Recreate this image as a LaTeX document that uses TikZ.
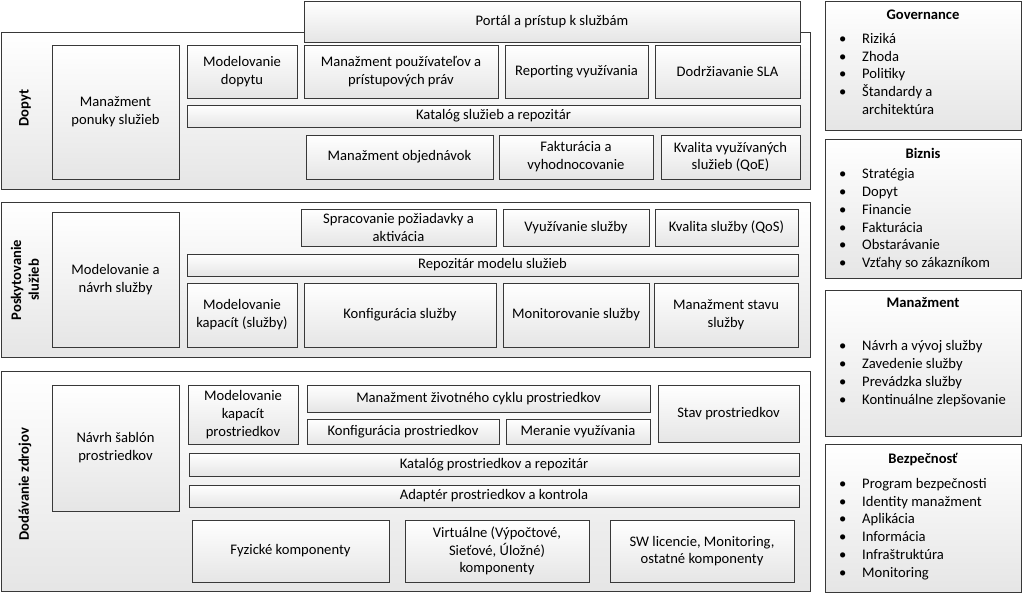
\documentclass[tikz,border=0pt]{standalone}
\usepackage{fontspec}
\setmainfont{Carlito}
\usetikzlibrary{shadows}
\newcommand\fs{\fontsize{14.6pt}{17.8pt}\selectfont}
\tikzset{
  bx/.style={draw=black!78, line width=0.9pt, top color=white, bottom color=black!10,
    align=center, inner sep=2pt, font=\fs,
    drop shadow={shadow xshift=1.2pt, shadow yshift=-1.2pt, opacity=0.18}},
  sidelabel/.style={rotate=90, font=\fs\bfseries, align=center, inner sep=0pt},
  ttl/.style={font=\fs\bfseries, inner sep=0pt, text height=10pt, text depth=3.5pt},
  lst/.style={font=\fs, anchor=west, inner sep=0pt, text height=10pt, text depth=3.5pt},
}
\newcommand\bx[6]{\node[bx, minimum width={#4-#2}, minimum height={#5-#3}] (#1) at ({(#2+#4)/2},{(#3+#5)/2}) {#6};}
\newcommand\itm[3]{\node[lst] (#1) at (839,#2+2) {\makebox[23pt][l]{•}#3};}
\begin{document}
\begin{tikzpicture}[x=1pt,y=-1pt]
\useasboundingbox (0,0) rectangle (1024,594);

% ---- containers ----
\bx{dopytC}{1}{32}{810}{189}{}
\bx{posC}{1}{202}{810}{357}{}
\bx{dodC}{1}{371}{810}{591}{}

\node[sidelabel] (dopytL) at (25,108) {Dopyt};
\node[sidelabel] (posL) at (25,280) {Poskytovanie\\služieb};
\node[sidelabel] (dodL) at (25,484) {Dodávanie zdrojov};

% ---- portal ----
\bx{portal}{304}{1}{800}{42}{Portál a prístup k službám}

% ---- Dopyt ----
\bx{mps}{52}{45}{179}{179}{Manažment\\ponuky služieb}
\bx{mdop}{187}{45}{297}{98}{Modelovanie\\dopytu}
\bx{mpp}{304}{45}{498}{98}{Manažment používateľov a\\prístupových práv}
\bx{repv}{505}{45}{648}{98}{Reporting využívania}
\bx{sla}{655}{45}{800}{98}{Dodržiavanie SLA}
\bx{kat}{187}{105}{800}{127}{Katalóg služieb a repozitár}
\bx{mobj}{306}{135}{493}{179}{Manažment objednávok}
\bx{fakt}{499}{135}{653}{179}{Fakturácia a\\vyhodnocovanie}
\bx{qoe}{661}{135}{800}{179}{Kvalita využívaných\\služieb (QoE)}

% ---- Poskytovanie ----
\bx{mns}{52}{212}{179}{347}{Modelovanie a\\návrh služby}
\bx{spr}{301}{209}{496}{246}{Spracovanie požiadavky a\\aktivácia}
\bx{vyuz}{503}{209}{649}{246}{Využívanie služby}
\bx{qos}{655}{209}{798}{246}{Kvalita služby (QoS)}
\bx{rep}{187}{254}{798}{276}{Repozitár modelu služieb}
\bx{mks}{187}{283}{297}{347}{Modelovanie\\kapacít (služby)}
\bx{konf}{304}{283}{496}{347}{Konfigurácia služby}
\bx{mon}{503}{283}{649}{347}{Monitorovanie služby}
\bx{mss}{654}{283}{798}{347}{Manažment stavu\\služby}

% ---- Dodávanie ----
\bx{nsp}{52}{385}{179}{511}{Návrh šablón\\prostriedkov}
\bx{mkp}{188}{385}{298}{444}{Modelovanie\\kapacít\\prostriedkov}
\bx{mzc}{307}{385}{650}{412}{Manažment životného cyklu prostriedkov}
\bx{kpr}{307}{419}{499}{444}{Konfigurácia prostriedkov}
\bx{mer}{506}{419}{650}{444}{Meranie využívania}
\bx{stav}{658}{385}{799}{442}{Stav prostriedkov}
\bx{katp}{189}{453}{799}{476}{Katalóg prostriedkov a repozitár}
\bx{adap}{189}{485}{799}{507}{Adaptér prostriedkov a kontrola}
\bx{fyz}{192}{520}{389}{582}{Fyzické komponenty}
\bx{virt}{405}{520}{589}{582}{Virtuálne (Výpočtové,\\Sieťové, Úložné)\\komponenty}
\bx{sw}{610}{520}{794}{582}{SW licencie, Monitoring,\\ostatné komponenty}

% ---- right column ----
\bx{gov}{825}{1}{1021}{130}{}
\bx{biz}{825}{139}{1021}{278}{}
\bx{man}{825}{290}{1021}{436}{}
\bx{bez}{825}{444}{1021}{592}{}

\node[ttl] (govT) at (923,16) {Governance};
\itm{g1}{38}{Riziká}
\itm{g2}{56}{Zhoda}
\itm{g3}{73}{Politiky}
\itm{g4}{91}{Štandardy a}
\node[lst] (g5) at (862,111) {architektúra};

\node[ttl] (bizT) at (923,155) {Biznis};
\itm{b1}{173}{Stratégia}
\itm{b2}{191}{Dopyt}
\itm{b3}{209}{Financie}
\itm{b4}{227}{Fakturácia}
\itm{b5}{244}{Obstarávanie}
\itm{b6}{262}{Vzťahy so zákazníkom}

\node[ttl] (manT) at (923,304) {Manažment};
\itm{m1}{345}{Návrh a vývoj služby}
\itm{m2}{363}{Zavedenie služby}
\itm{m3}{381}{Prevádzka služby}
\itm{m4}{399}{Kontinuálne zlepšovanie}

\node[ttl] (bezT) at (923,460) {Bezpečnosť};
\itm{s1}{483}{Program bezpečnosti}
\itm{s2}{501}{Identity manažment}
\itm{s3}{518}{Aplikácia}
\itm{s4}{536}{Informácia}
\itm{s5}{554}{Infraštruktúra}
\itm{s6}{572}{Monitoring}
\end{tikzpicture}
\end{document}
